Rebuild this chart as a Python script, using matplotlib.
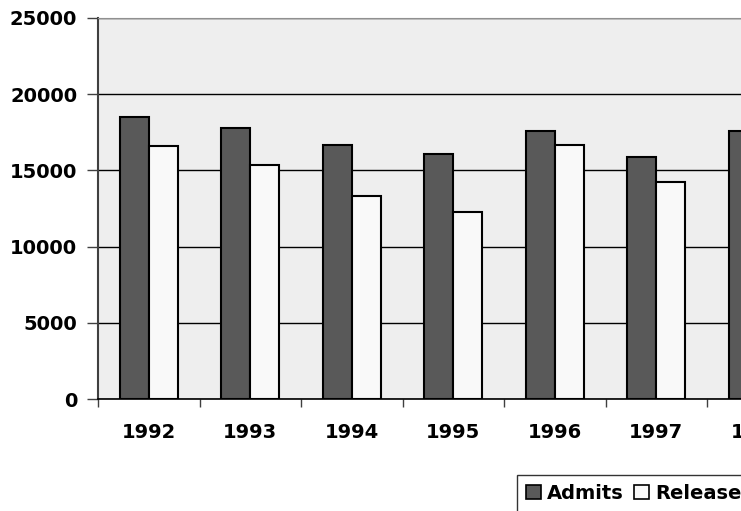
import matplotlib.pyplot as plt
import numpy as np
from matplotlib.patches import Patch

years = ["1992", "1993", "1994", "1995", "1996", "1997", "1998"]
admits = [18500, 17800, 16650, 16050, 17600, 15900, 17600]
releases = [16600, 15350, 13300, 12250, 16650, 14250, 16000]

plt.rcParams["font.family"] = ["DejaVu Sans"]
plt.rcParams["font.weight"] = "bold"

fig = plt.figure(figsize=(7.41, 5.11), dpi=100)
# plot area runs past the right edge, so the last year is cut off
ax = fig.add_axes([98 / 741, 112 / 511, 710.5 / 741, 381 / 511])
ax.set_facecolor("#EEEEEE")

x = np.arange(len(years))
w = 1 / 3.5
ax.bar(x - w / 2, admits, w, color="#595959", edgecolor="black", linewidth=1.5, zorder=3)
ax.bar(x + w / 2, releases, w, color="#F9F9F9", edgecolor="black", linewidth=1.5, zorder=3)

ax.set_xlim(-0.5, len(years) - 0.5)
ax.set_ylim(0, 25000)
ax.set_yticks(np.arange(0, 25001, 5000))
ax.yaxis.grid(True, color="black", linewidth=1.0, zorder=1)
ax.set_axisbelow(True)

# year labels centred, tick marks between categories
ax.set_xticks(np.arange(-0.5, len(years), 1.0))
ax.set_xticklabels([])
ax.set_xticks(x, minor=True)
ax.set_xticklabels(years, minor=True)
ax.tick_params(axis="x", which="major", length=6, width=1, color="#404040", direction="out")
ax.tick_params(axis="x", which="minor", length=0, pad=17, labelsize=14)
ax.tick_params(axis="y", length=8, width=1, color="#404040", pad=7, labelsize=14)

ax.spines["top"].set_color("#909090")
ax.spines["right"].set_visible(False)
ax.spines["left"].set_color("#404040")
ax.spines["left"].set_linewidth(1.5)
ax.spines["bottom"].set_color("black")
ax.spines["bottom"].set_linewidth(1.2)

handles = [
    Patch(facecolor="#595959", edgecolor="black", linewidth=1.2),
    Patch(facecolor="#F9F9F9", edgecolor="black", linewidth=1.2),
]
leg = fig.legend(
    handles, ["Admits", "Releases"],
    loc="upper left", bbox_to_anchor=(517 / 741, 1 - 475 / 511),
    ncol=2, frameon=True, fancybox=False, fontsize=14,
    handlelength=0.8, handleheight=0.8, handletextpad=0.3,
    columnspacing=0.5, borderpad=0.45, borderaxespad=0,
)
leg.get_frame().set_edgecolor("black")
leg.get_frame().set_linewidth(1.0)

fig.savefig("out.png", dpi=100)
